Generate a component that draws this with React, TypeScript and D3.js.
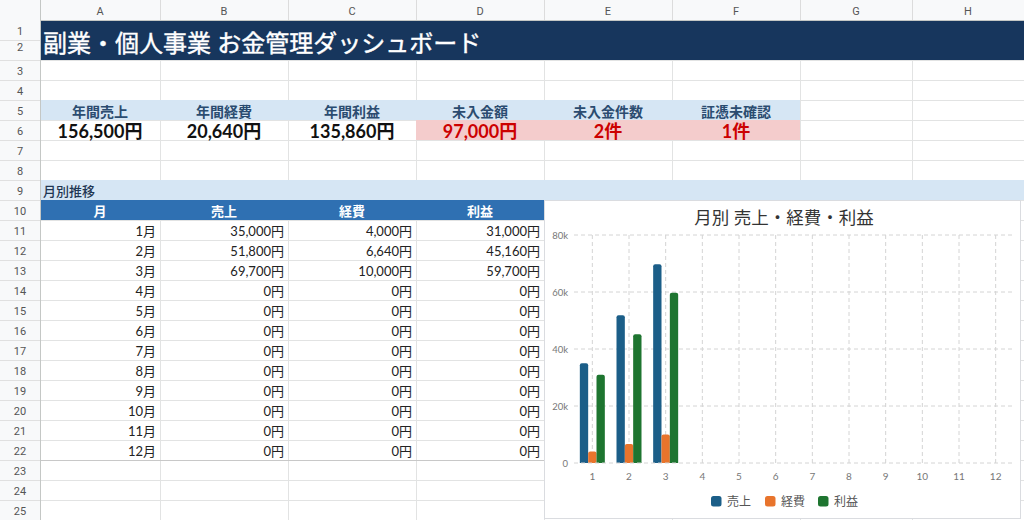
import * as d3 from "d3";

const colLetters = ["A", "B", "C", "D", "E", "F", "G", "H"];
const colEdges = [40, 160, 288, 416, 544, 672, 800, 912, 1024];

const kpiLabels = ["年間売上", "年間経費", "年間利益", "未入金額", "未入金件数", "証憑未確認"];
const kpiValues = ["156,500円", "20,640円", "135,860円", "97,000円", "2件", "1件"];
const kpiAlert = [false, false, false, true, true, true];

const tableHeaders = ["月", "売上", "経費", "利益"];
const months = [1, 2, 3, 4, 5, 6, 7, 8, 9, 10, 11, 12];
const sales = [35000, 51800, 69700, 0, 0, 0, 0, 0, 0, 0, 0, 0];
const expenses = [4000, 6640, 10000, 0, 0, 0, 0, 0, 0, 0, 0, 0];
const profit = [31000, 45160, 59700, 0, 0, 0, 0, 0, 0, 0, 0, 0];

const seriesNames = ["売上", "経費", "利益"];
const seriesColors = ["#1b5e88", "#e8742c", "#1e7530"];
const yTicks = [0, 20000, 40000, 60000, 80000];

const FONT = "Lato, 'Noto Sans CJK JP', sans-serif";
const HEAD_FONT = "Roboto, 'Liberation Sans', Arial, sans-serif";
const GRID = "#e2e3e3";

const rowTop = (n: number) => 20 * n;
const yen = (v: number) => d3.format(",")(v) + "円";

function Chart() {
  const left = 574;
  const right = 1014;
  const top = 235;
  const bottom = 463;

  const x = d3
    .scaleBand<number>()
    .domain(months)
    .range([left, right]);
  const x1 = d3
    .scaleBand<number>()
    .domain([0, 1, 2])
    .range([0, x.bandwidth()])
    .paddingOuter(0.7);
  const y = d3.scaleLinear().domain([0, 80000]).range([bottom, top]);
  const series = [sales, expenses, profit];
  const fmt = (v: number) => (v === 0 ? "0" : v / 1000 + "k");

  return (
    <g>
      <rect x={544.5} y={200.5} width={476} height={318} fill="#fff" stroke="#dadce0" />
      <text
        x={784}
        y={217}
        textAnchor="middle"
        dominantBaseline="central"
        fontSize={17.5}
        fill="#333"
        fontFamily={FONT}
      >
        月別 売上・経費・利益
      </text>
      {yTicks.map((t) => (
        <g key={t}>
          {t > 0 && (
            <line
              x1={left}
              x2={right}
              y1={y(t)}
              y2={y(t)}
              stroke="#d4d4d4"
              strokeDasharray="4,3"
            />
          )}
          <text
            x={568}
            y={y(t)}
            textAnchor="end"
            dominantBaseline="central"
            fontSize={9.5}
            fill="#777"
            fontFamily={FONT}
          >
            {fmt(t)}
          </text>
        </g>
      ))}
      {months.map((m) => {
        const cx = x(m)! + x.bandwidth() / 2;
        return (
          <g key={m}>
            <line
              x1={cx}
              x2={cx}
              y1={top}
              y2={bottom}
              stroke="#d4d4d4"
              strokeDasharray="4,3"
            />
            <text
              x={cx}
              y={476}
              textAnchor="middle"
              dominantBaseline="central"
              fontSize={10}
              fill="#777"
              fontFamily={FONT}
            >
              {m}
            </text>
          </g>
        );
      })}
      {series.map((vals, si) =>
        vals.map((v, i) =>
          v > 0 ? (
            <path
              key={si + "-" + i}
              d={(() => {
                const bx = x(months[i])! + x1(si)!;
                const bw = x1.bandwidth();
                const by = y(v);
                const r = 2;
                return `M${bx},${bottom}V${by + r}Q${bx},${by} ${bx + r},${by}H${bx + bw - r}Q${bx + bw},${by} ${bx + bw},${by + r}V${bottom}Z`;
              })()}
              fill={seriesColors[si]}
            />
          ) : null
        )
      )}
      <line x1={left} x2={right} y1={bottom} y2={bottom} stroke="#d4d4d4" strokeDasharray="4,3" />
      {seriesNames.map((name, i) => {
        const lx = [711, 765, 818][i];
        return (
          <g key={name}>
            <rect x={lx} y={496} width={10.5} height={10.5} rx={2.5} fill={seriesColors[i]} />
            <text
              x={lx + 16}
              y={501.5}
              dominantBaseline="central"
              fontSize={12}
              fill="#555"
              fontFamily={FONT}
            >
              {name}
            </text>
          </g>
        );
      })}
    </g>
  );
}

export default function App() {
  const rows = d3.range(1, 26);

  return (
    <svg
      width={1024}
      height={520}
      style={{ position: "absolute", left: 0, top: 0, display: "block" }}
    >
      <rect width={1024} height={520} fill="#fff" />

      {/* cell grid */}
      {rows.map((r) => (
        <line key={"h" + r} x1={40} x2={1024} y1={rowTop(r) + 20.5} y2={rowTop(r) + 20.5} stroke={GRID} />
      ))}
      {colEdges.slice(1, -1).map((e) => (
        <line key={"v" + e} x1={e + 0.5} x2={e + 0.5} y1={20} y2={520} stroke={GRID} />
      ))}

      {/* title rows 1-2 */}
      <rect x={40} y={20} width={984} height={40} fill="#17365d" />
      <text
        x={43}
        y={42}
        dominantBaseline="central"
        fontSize={24}
        fontWeight={400}
        fill="#fff"
        fontFamily={FONT}
        stroke="#fff"
        strokeWidth={0.4}
      >
        副業・個人事業 お金管理ダッシュボード
      </text>

      {/* KPI rows 5-6 */}
      <rect x={40} y={rowTop(5)} width={760} height={20} fill="#d6e6f4" />
      <rect x={416} y={rowTop(6)} width={384} height={20} fill="#f4cccc" />
      {kpiLabels.map((lab, i) => {
        const cx = (colEdges[i] + colEdges[i + 1]) / 2;
        return (
          <g key={lab}>
            <text
              x={cx}
              y={rowTop(5) + 11}
              textAnchor="middle"
              dominantBaseline="central"
              fontSize={14}
              fontWeight={700}
              fill="#2b4c70"
              fontFamily={FONT}
            >
              {lab}
            </text>
            <text
              x={cx}
              y={rowTop(6) + 11}
              textAnchor="middle"
              dominantBaseline="central"
              fontSize={18}
              fontWeight={700}
              fill={kpiAlert[i] ? "#cc0000" : "#111"}
              fontFamily={FONT}
            >
              {kpiValues[i]}
            </text>
          </g>
        );
      })}

      {/* section row 9 */}
      <rect x={40} y={rowTop(9)} width={984} height={20} fill="#d6e6f4" />
      <text
        x={43}
        y={rowTop(9) + 10.5}
        dominantBaseline="central"
        fontSize={13}
        fontWeight={500}
        fill="#1f3652"
        fontFamily={FONT}
      >
        月別推移
      </text>

      {/* table */}
      <rect x={40} y={rowTop(10)} width={504} height={20} fill="#2f70b2" />
      {tableHeaders.map((h, i) => (
        <text
          key={h}
          x={(colEdges[i] + colEdges[i + 1]) / 2}
          y={rowTop(10) + 10.5}
          textAnchor="middle"
          dominantBaseline="central"
          fontSize={13}
          fontWeight={700}
          fill="#fff"
          fontFamily={FONT}
        >
          {h}
        </text>
      ))}
      {months.map((m, i) => {
        const cy = rowTop(11 + i) + 10.5;
        const cells = [m + "月", yen(sales[i]), yen(expenses[i]), yen(profit[i])];
        return (
          <g key={m}>
            {cells.map((c, j) => (
              <text
                key={j}
                x={colEdges[j + 1] - 4}
                y={cy}
                textAnchor="end"
                dominantBaseline="central"
                fontSize={13}
                fill="#222"
                fontFamily={FONT}
              >
                {c}
              </text>
            ))}
          </g>
        );
      })}
      <line x1={40} x2={544} y1={460.5} y2={460.5} stroke="#c8c8c8" />

      <Chart />

      {/* column headers */}
      <rect x={0} y={0} width={1024} height={20} fill="#f8f9fa" />
      <line x1={0} x2={1024} y1={20.5} y2={20.5} stroke="#c4c7c5" />
      {colLetters.map((c, i) => (
        <g key={c}>
          <line
            x1={colEdges[i + 1] + 0.5}
            x2={colEdges[i + 1] + 0.5}
            y1={0}
            y2={20}
            stroke="#dcdcdc"
          />
          <text
            x={(colEdges[i] + colEdges[i + 1]) / 2}
            y={11}
            textAnchor="middle"
            dominantBaseline="central"
            fontSize={11}
            fill="#555"
            fontFamily={HEAD_FONT}
          >
            {c}
          </text>
        </g>
      ))}

      {/* row headers */}
      <rect x={0} y={0} width={40} height={520} fill="#f8f9fa" />
      <line x1={40.5} x2={40.5} y1={0} y2={520} stroke="#c4c7c5" />
      {rows.map((r) => (
        <g key={r}>
          <line x1={0} x2={40} y1={rowTop(r) + 20.5} y2={rowTop(r) + 20.5} stroke="#e0e0e0" />
          <text
            x={20}
            y={r === 2 ? 47 : rowTop(r) + 11}
            textAnchor="middle"
            dominantBaseline="central"
            fontSize={11}
            fill="#555"
            fontFamily={HEAD_FONT}
          >
            {r}
          </text>
        </g>
      ))}
    </svg>
  );
}
